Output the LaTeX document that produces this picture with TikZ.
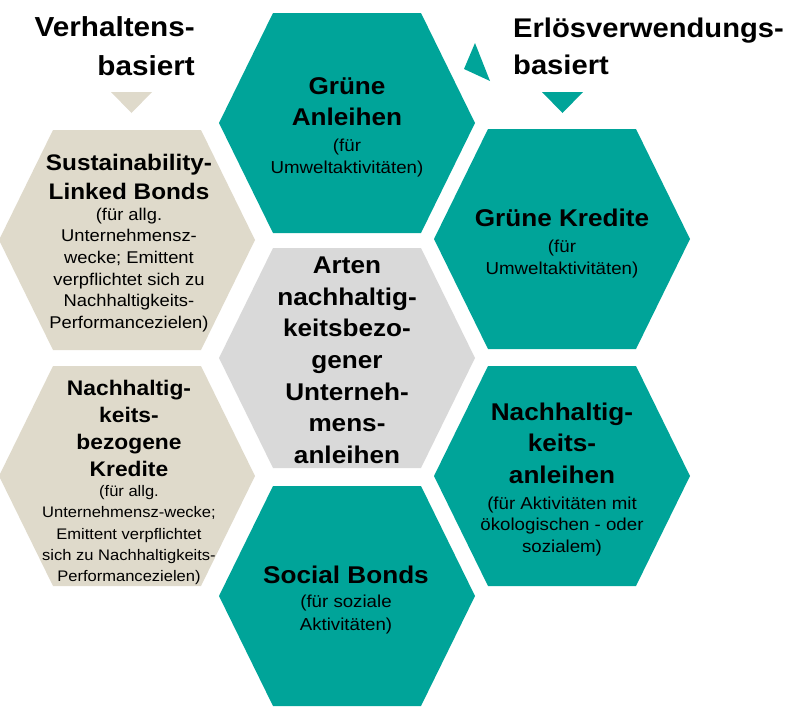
\documentclass[tikz,border=0pt]{standalone}
\usepackage{fontspec}
\setmainfont{Liberation Sans}[FakeStretch=1.08, Ligatures={TeX,NoCommon}]
\definecolor{hexteal}{RGB}{0,164,153}
\definecolor{hexbeige}{RGB}{223,218,203}
\definecolor{hexgrey}{RGB}{217,217,217}
\newcommand\hexfill[2]{\fill[#2,shift={(#1)}] (-128,0) -- (-74,-110) -- (74,-110) -- (128,0) -- (74,110) -- (-74,110) -- cycle;}
\newcommand\fs[2]{\fontsize{#1}{#2}\selectfont\spaceskip=0.3em\relax}
\begin{document}
\begin{tikzpicture}[x=1pt,y=-1pt,
  ht/.style={text width=260pt, align=center, inner sep=0pt, anchor=base},
  head/.style={text width=300pt, inner sep=0pt, font=\fontsize{27.5}{39}\selectfont\bfseries}]
\useasboundingbox (0,0) rectangle (812,707);
% hexagon centres
\coordinate (cTop) at (347,123);
\coordinate (cMid) at (347,358);
\coordinate (cBot) at (347,596);
\coordinate (cLU) at (127,240);
\coordinate (cLL) at (127,476);
\coordinate (cRU) at (562,239);
\coordinate (cRL) at (562,476);
\hexfill{cTop}{hexteal}
\hexfill{cMid}{hexgrey}
\hexfill{cBot}{hexteal}
\hexfill{cLU}{hexbeige}
\hexfill{cLL}{hexbeige}
\hexfill{cRU}{hexteal}
\hexfill{cRL}{hexteal}
% triangles
\fill[hexbeige] (111,92) -- (152,92) -- (131.5,113) -- cycle;
\fill[hexteal] (542,92) -- (583,92) -- (562.5,113) -- cycle;
\fill[hexteal] (475,43) -- (464,69) -- (490,81) -- cycle;
% headings
\node[head, align=right, anchor=base east] (hL) at (195,36) {Verhaltens-\\basiert};
\node[head, align=left, anchor=base west, font=\fontsize{27}{36.3}\selectfont\bfseries] (hR) at (513,37.7) {Erlösverwendungs-\\basiert};
% hexagon texts
\node[ht] (tTop) at (347,94) {{\fs{24.2}{31.7}\bfseries Grüne\\Anleihen\par}\vspace{4pt}{\fs{17.3}{21.7}(für\\Umweltaktivitäten)\par}};
\node[ht] (tMid) at (347,273.3) {{\fs{24.2}{31.7}\bfseries Arten\\nachhaltig-\\keitsbezo-\\gener\\Unterneh-\\mens-\\anleihen\par}};
\node[ht] (tRU) at (562,226) {{\fs{24.2}{31.7}\bfseries Grüne Kredite\par}\vspace{5pt}{\fs{17.3}{21.7}(für\\Umweltaktivitäten)\par}};
\node[ht] (tRL) at (562,420) {{\fs{24.2}{31.7}\bfseries Nachhaltig-\\keits-\\anleihen\par}\vspace{4pt}{\fs{17.3}{21.7}(für Aktivitäten mit\\ökologischen - oder\\sozialem)\par}};
\node[ht] (tBot) at (346,583.3) {{\fs{24.2}{31.7}\bfseries Social Bonds\par}\vspace{1.3pt}{\fs{17.3}{22.7}(für soziale\\Aktivitäten)\par}};
\node[ht] (tLU) at (129,170.7) {{\fs{22.5}{28.7}\bfseries Sustainability-\\Linked Bonds\par}\vspace{-1pt}{\fs{17}{21.7}(für allg.\\Unternehmensz-\\wecke; Emittent\\verpflichtet sich zu\\Nachhaltigkeits-\\Performancezielen)\par}};
\node[ht] (tLL) at (129,395) {{\fs{21.1}{27.3}\bfseries Nachhaltig-\\keits-\\bezogene\\Kredite\par}\vspace{-1.4pt}{\fs{15.3}{21.2}(für allg.\\Unternehmensz-wecke;\\Emittent verpflichtet\\sich zu Nachhaltigkeits-\\Performancezielen)\par}};
\end{tikzpicture}
\end{document}
